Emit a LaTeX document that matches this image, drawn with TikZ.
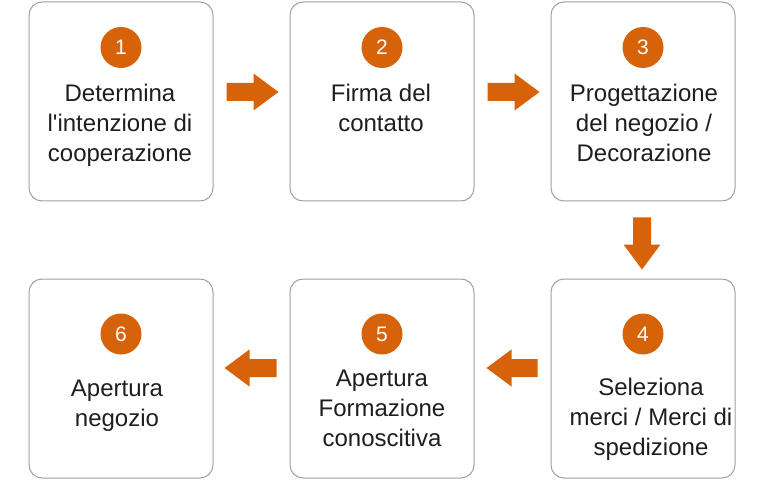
\documentclass[tikz,border=0pt]{standalone}
\usepackage{fontspec}
\setmainfont{Liberation Sans}[Ligatures=TeXOff]
\usetikzlibrary{calc}
\definecolor{orangec}{RGB}{214,99,10}
\definecolor{boxline}{RGB}{160,160,160}
\definecolor{txt}{RGB}{30,30,30}
\tikzset{
  stepbox/.style={draw=boxline, line width=1pt, rounded corners=13pt, fill=white,
    minimum width=184pt, minimum height=199pt, inner sep=0pt},
  numdot/.style={circle, fill=orangec, minimum size=41pt, inner sep=0pt,
    text=white, font=\fontsize{21}{24}\selectfont},
  label/.style={anchor=north, align=center, inner sep=0pt, text=txt,
    font=\fontsize{24}{30}\selectfont},
  blockarrow/.style={fill=orangec, to path={
    -- ($(\tikztostart)!9pt!90:(\tikztotarget)$)
    -- ($($(\tikztotarget)!25pt!(\tikztostart)$)!9pt!-90:(\tikztostart)$)
    -- ($($(\tikztotarget)!25pt!(\tikztostart)$)!18.5pt!-90:(\tikztostart)$)
    -- (\tikztotarget)
    -- ($($(\tikztotarget)!25pt!(\tikztostart)$)!18.5pt!90:(\tikztostart)$)
    -- ($($(\tikztotarget)!25pt!(\tikztostart)$)!9pt!90:(\tikztostart)$)
    -- ($(\tikztostart)!9pt!-90:(\tikztotarget)$)
    -- cycle}}
}
\begin{document}
\begin{tikzpicture}[x=1pt,y=-1pt]
\useasboundingbox[fill=white] (0,0) rectangle (760,481);
% boxes
\node[stepbox] (b1) at (121,101.5) {};
\node[stepbox] (b2) at (382,101.5) {};
\node[stepbox] (b3) at (643,101.5) {};
\node[stepbox] (b4) at (643,378.5) {};
\node[stepbox] (b5) at (382,378.5) {};
\node[stepbox] (b6) at (121,378.5) {};
% number dots
\node[numdot] (c1) at (121,47.5) {1};
\node[numdot] (c2) at (382,47.5) {2};
\node[numdot] (c3) at (643,47.5) {3};
\node[numdot] (c4) at (643,334) {4};
\node[numdot] (c5) at (382,334) {5};
\node[numdot] (c6) at (121,334) {6};
% labels
\node[label] (t1) at (120,83.8) {Determina\\l'intenzione di\\cooperazione};
\node[label] (t2) at (381,83.8) {Firma del\\contatto};
\node[label] (t3) at (644,83.8) {Progettazione\\del negozio /\\Decorazione};
\node[label] (t4) at (651,377.8) {Seleziona\\merci / Merci di\\spedizione};
\node[label] (t5) at (382,369.8) {Apertura\\Formazione\\conoscitiva};
\node[label] (t6) at (117,379.8) {Apertura\\negozio};
% arrow ends
\coordinate (a12s) at ([xshift=13pt,yshift=9.5pt]b1.east);
\coordinate (a12e) at ([xshift=-11pt,yshift=9.5pt]b2.west);
\coordinate (a23s) at ([xshift=13pt,yshift=9.5pt]b2.east);
\coordinate (a23e) at ([xshift=-11pt,yshift=9.5pt]b3.west);
\coordinate (a34s) at ([xshift=-1pt,yshift=-16pt]b3.south);
\coordinate (a34e) at ([xshift=-1pt,yshift=9pt]b4.north);
\coordinate (a45s) at ([xshift=-13pt,yshift=10.5pt]b4.west);
\coordinate (a45e) at ([xshift=12pt,yshift=10.5pt]b5.east);
\coordinate (a56s) at ([xshift=-13pt,yshift=10.5pt]b5.west);
\coordinate (a56e) at ([xshift=11pt,yshift=10.5pt]b6.east);
% arrows
\fill[blockarrow] (a12s) to (a12e);
\fill[blockarrow] (a23s) to (a23e);
\fill[blockarrow] (a34s) to (a34e);
\fill[blockarrow] (a45s) to (a45e);
\fill[blockarrow] (a56s) to (a56e);
\end{tikzpicture}
\end{document}
